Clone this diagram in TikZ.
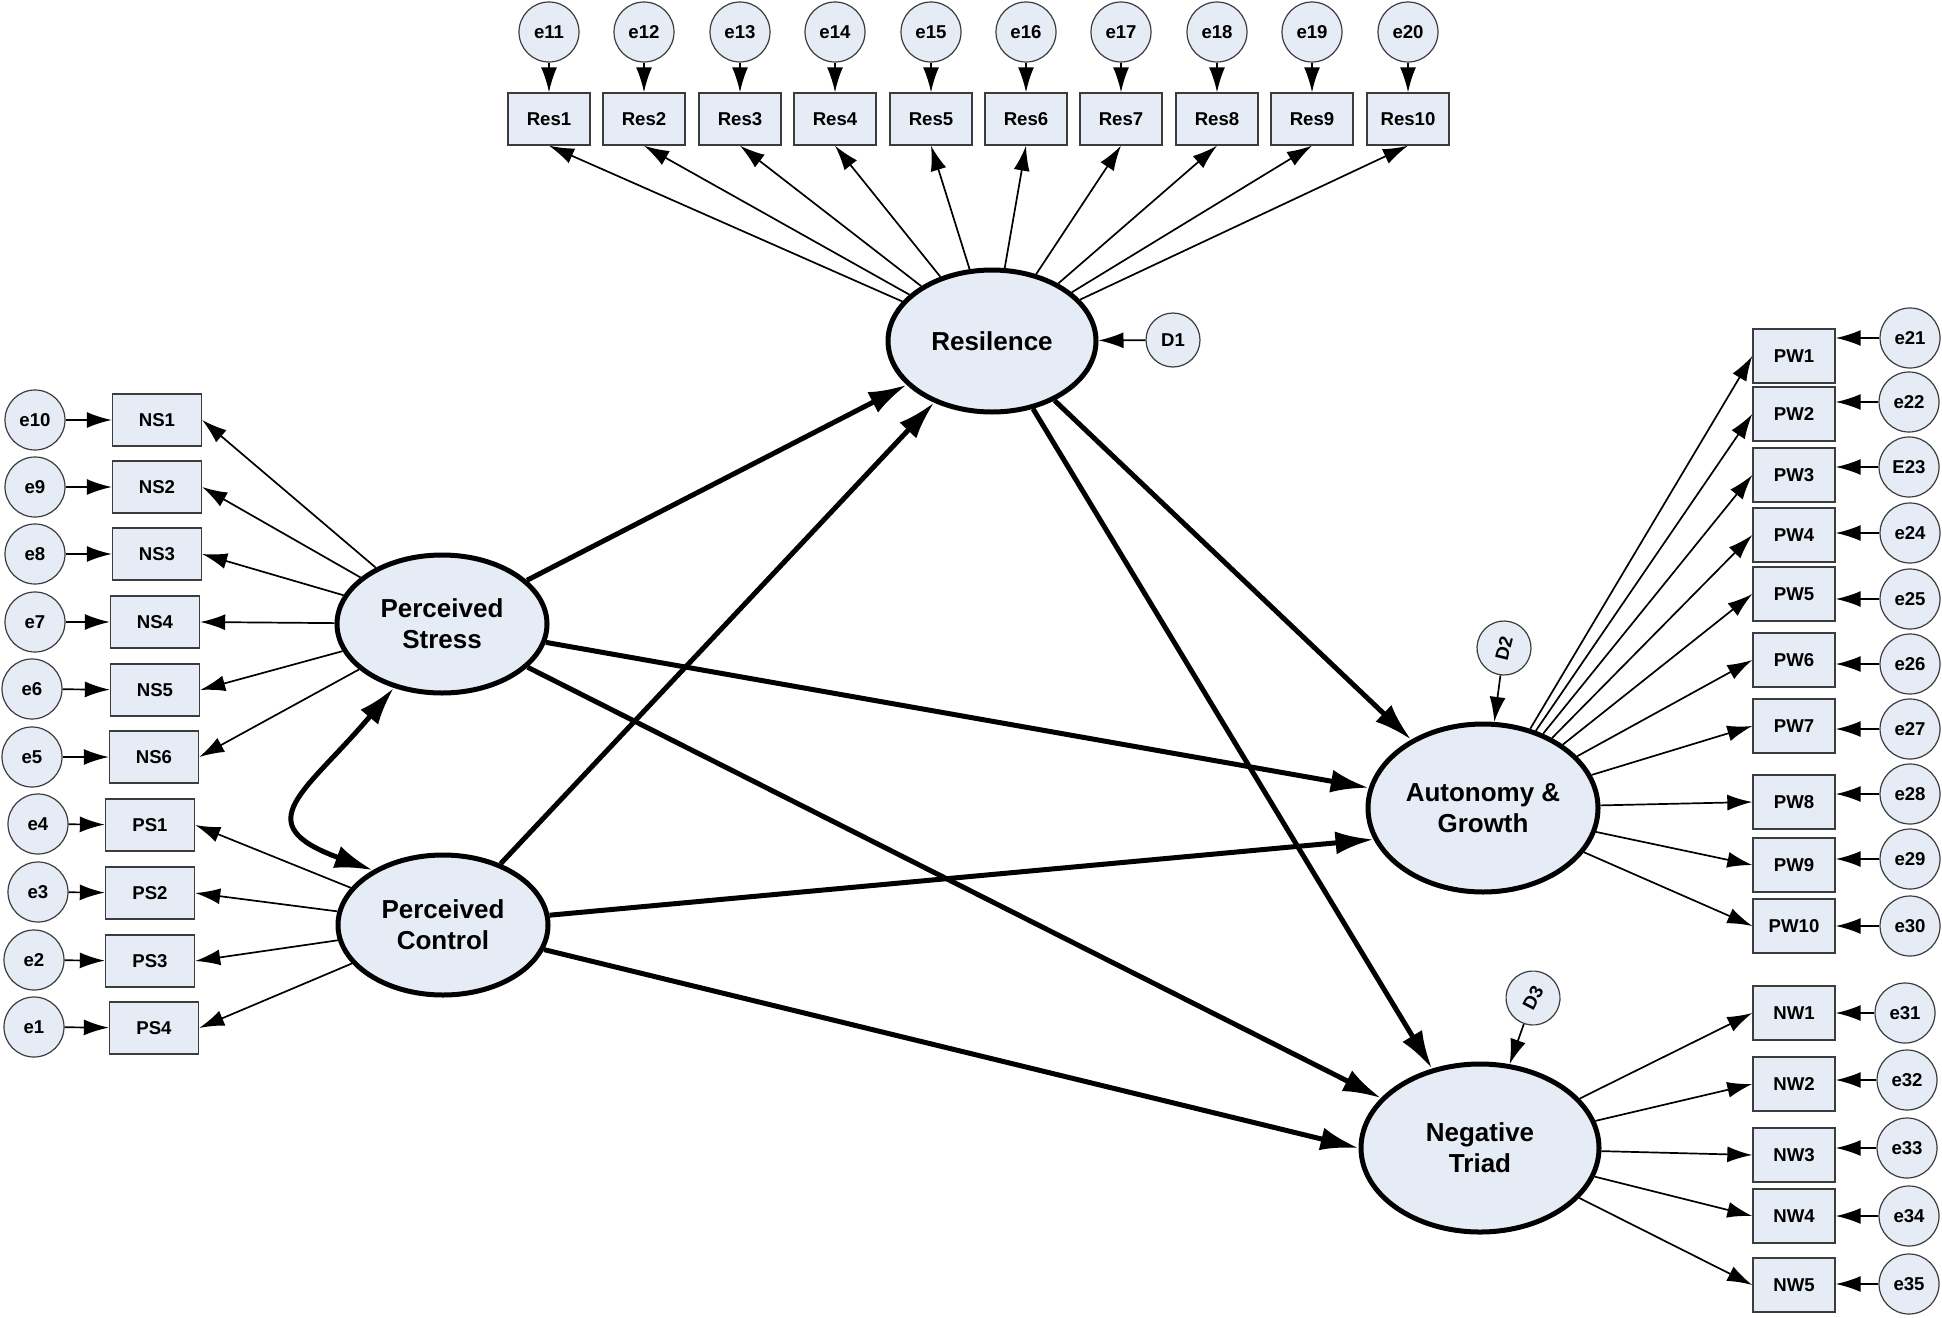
\documentclass[tikz,border=0pt]{standalone}
\usepackage{fontspec}
\setmainfont{Liberation Sans}
\usetikzlibrary{arrows.meta,shapes.geometric,positioning}
\definecolor{semfill}{RGB}{230,236,245}
\definecolor{semline}{RGB}{60,60,60}
\tikzset{
    latent/.style={ellipse,draw,line width=2.5pt,fill=semfill,inner sep=0pt,align=center,font=\fontsize{13}{15.5}\selectfont\bfseries},
    obs/.style={rectangle,draw=semline,line width=0.7pt,fill=semfill,minimum width=41pt,minimum height=26pt,inner sep=0pt,font=\fontsize{9.3}{11}\selectfont\bfseries},
    err/.style={circle,draw=semline,line width=0.6pt,fill=semfill,minimum size=30pt,inner sep=0pt,font=\fontsize{9.3}{11}\selectfont\bfseries},
    dist/.style={err,minimum size=27pt},
    pre/.style={-{Latex[length=12.5pt,width=8pt]},line width=0.85pt},
    causal/.style={-{Latex[length=19pt,width=11.5pt]},line width=2.5pt},
    cov/.style={{Latex[length=19pt,width=11.5pt]}-{Latex[length=19pt,width=11.5pt]},line width=2.5pt}
}

\begin{document}
\begin{tikzpicture}[x=0.5pt,y=0.5pt]
    \useasboundingbox (0,0) rectangle (1942,-1317);

    % resilience items
    \node[obs] (res 1)  at (549,-119)  {Res1};
    \node[obs] (res 2)  at (644,-119)  {Res2};
    \node[obs] (res 3)  at (740,-119)  {Res3};
    \node[obs] (res 4)  at (835,-119)  {Res4};
    \node[obs] (res 5)  at (931,-119)  {Res5};
    \node[obs] (res 6)  at (1026,-119) {Res6};
    \node[obs] (res 7)  at (1121,-119) {Res7};
    \node[obs] (res 8)  at (1217,-119) {Res8};
    \node[obs] (res 9)  at (1312,-119) {Res9};
    \node[obs] (res 10) at (1408,-119) {Res10};

    \node[err] (e 11) at (549,-32)  {e11} edge[pre] (res 1);
    \node[err] (e 12) at (644,-32)  {e12} edge[pre] (res 2);
    \node[err] (e 13) at (740,-32)  {e13} edge[pre] (res 3);
    \node[err] (e 14) at (835,-32)  {e14} edge[pre] (res 4);
    \node[err] (e 15) at (931,-32)  {e15} edge[pre] (res 5);
    \node[err] (e 16) at (1026,-32) {e16} edge[pre] (res 6);
    \node[err] (e 17) at (1121,-32) {e17} edge[pre] (res 7);
    \node[err] (e 18) at (1217,-32) {e18} edge[pre] (res 8);
    \node[err] (e 19) at (1312,-32) {e19} edge[pre] (res 9);
    \node[err] (e 20) at (1408,-32) {e20} edge[pre] (res 10);

    % stress and control items
    \node[obs,minimum width=44.5pt] (ns 1) at (157,-420)  {NS1};
    \node[obs,minimum width=44.5pt] (ns 2) at (157,-487)  {NS2};
    \node[obs,minimum width=44.5pt] (ns 3) at (157,-554)  {NS3};
    \node[obs,minimum width=44.5pt] (ns 4) at (155,-622)  {NS4};
    \node[obs,minimum width=44.5pt] (ns 5) at (155,-690)  {NS5};
    \node[obs,minimum width=44.5pt] (ns 6) at (154,-757)  {NS6};
    \node[obs,minimum width=44.5pt] (ps 1) at (150,-825)  {PS1};
    \node[obs,minimum width=44.5pt] (ps 2) at (150,-893)  {PS2};
    \node[obs,minimum width=44.5pt] (ps 3) at (150,-961)  {PS3};
    \node[obs,minimum width=44.5pt] (ps 4) at (154,-1028) {PS4};

    \node[err] (e 10) at (35,-420)  {e10} edge[pre] (ns 1);
    \node[err] (e 9)  at (35,-487)  {e9}  edge[pre] (ns 2);
    \node[err] (e 8)  at (35,-554)  {e8}  edge[pre] (ns 3);
    \node[err] (e 7)  at (35,-622)  {e7}  edge[pre] (ns 4);
    \node[err] (e 6)  at (32,-689)  {e6}  edge[pre] (ns 5);
    \node[err] (e 5)  at (32,-757)  {e5}  edge[pre] (ns 6);
    \node[err] (e 4)  at (38,-824)  {e4}  edge[pre] (ps 1);
    \node[err] (e 3)  at (38,-892)  {e3}  edge[pre] (ps 2);
    \node[err] (e 2)  at (34,-960)  {e2}  edge[pre] (ps 3);
    \node[err] (e 1)  at (34,-1027) {e1}  edge[pre] (ps 4);

    % wellbeing items
    \node[obs,minimum height=27pt] (pw 1)  at (1794,-356)  {PW1};
    \node[obs,minimum height=27pt] (pw 2)  at (1794,-414)  {PW2};
    \node[obs,minimum height=27pt] (pw 3)  at (1794,-475)  {PW3};
    \node[obs,minimum height=27pt] (pw 4)  at (1794,-535)  {PW4};
    \node[obs,minimum height=27pt] (pw 5)  at (1794,-594)  {PW5};
    \node[obs,minimum height=27pt] (pw 6)  at (1794,-660)  {PW6};
    \node[obs,minimum height=27pt] (pw 7)  at (1794,-726)  {PW7};
    \node[obs,minimum height=27pt] (pw 8)  at (1794,-802)  {PW8};
    \node[obs,minimum height=27pt] (pw 9)  at (1794,-865)  {PW9};
    \node[obs,minimum height=27pt] (pw 10) at (1794,-926)  {PW10};
    \node[obs,minimum height=27pt] (nw 1)  at (1794,-1013) {NW1};
    \node[obs,minimum height=27pt] (nw 2)  at (1794,-1084) {NW2};
    \node[obs,minimum height=27pt] (nw 3)  at (1794,-1155) {NW3};
    \node[obs,minimum height=27pt] (nw 4)  at (1794,-1216) {NW4};
    \node[obs,minimum height=27pt] (nw 5)  at (1794,-1285) {NW5};

    \node[err] (e 21) at (1910,-338)  {e21} edge[pre] (pw 1.east |- e 21);
    \node[err] (e 22) at (1909,-402)  {e22} edge[pre] (pw 2.east |- e 22);
    \node[err] (e 23) at (1909,-467)  {E23} edge[pre] (pw 3.east |- e 23);
    \node[err] (e 24) at (1910,-533)  {e24} edge[pre] (pw 4.east |- e 24);
    \node[err] (e 25) at (1910,-599)  {e25} edge[pre] (pw 5.east |- e 25);
    \node[err] (e 26) at (1910,-664)  {e26} edge[pre] (pw 6.east |- e 26);
    \node[err] (e 27) at (1910,-729)  {e27} edge[pre] (pw 7.east |- e 27);
    \node[err] (e 28) at (1910,-794)  {e28} edge[pre] (pw 8.east |- e 28);
    \node[err] (e 29) at (1910,-859)  {e29} edge[pre] (pw 9.east |- e 29);
    \node[err] (e 30) at (1910,-926)  {e30} edge[pre] (pw 10.east |- e 30);
    \node[err] (e 31) at (1905,-1013) {e31} edge[pre] (nw 1.east |- e 31);
    \node[err] (e 32) at (1907,-1080) {e32} edge[pre] (nw 2.east |- e 32);
    \node[err] (e 33) at (1907,-1148) {e33} edge[pre] (nw 3.east |- e 33);
    \node[err] (e 34) at (1909,-1216) {e34} edge[pre] (nw 4.east |- e 34);
    \node[err] (e 35) at (1909,-1284) {e35} edge[pre] (nw 5.east |- e 35);

    % latent variables with their loadings
    \node[latent,minimum width=104pt,minimum height=71pt] (resil) at (992,-341) {Resilence}
        edge[pre] (res 1.south) edge[pre] (res 2.south) edge[pre] (res 3.south)
        edge[pre] (res 4.south) edge[pre] (res 5.south) edge[pre] (res 6.south)
        edge[pre] (res 7.south) edge[pre] (res 8.south) edge[pre] (res 9.south)
        edge[pre] (res 10.south);
    \node[latent,minimum width=105pt,minimum height=69pt] (stress) at (442,-624) {Perceived\\Stress}
        edge[pre] (ns 1.east) edge[pre] (ns 2.east) edge[pre] (ns 3.east)
        edge[pre] (ns 4.east) edge[pre] (ns 5.east) edge[pre] (ns 6.east);
    \node[latent,minimum width=105pt,minimum height=70pt] (control) at (443,-925) {Perceived\\Control}
        edge[pre] (ps 1.east) edge[pre] (ps 2.east) edge[pre] (ps 3.east)
        edge[pre] (ps 4.east);
    \node[latent,minimum width=115pt,minimum height=84pt] (autonomy) at (1483,-808) {Autonomy \&\\Growth}
        edge[pre] (pw 1.west) edge[pre] (pw 2.west) edge[pre] (pw 3.west)
        edge[pre] (pw 4.west) edge[pre] (pw 5.west) edge[pre] (pw 6.west)
        edge[pre] (pw 7.west) edge[pre] (pw 8.west) edge[pre] (pw 9.west)
        edge[pre] (pw 10.west);
    \node[latent,minimum width=119pt,minimum height=84pt] (triad) at (1480,-1148) {Negative\\Triad}
        edge[pre] (nw 1.west) edge[pre] (nw 2.west) edge[pre] (nw 3.west)
        edge[pre] (nw 4.west) edge[pre] (nw 5.west);

    % disturbances
    \node[dist]           (d 1) at (1173,-340) {D1} edge[pre] (resil);
    \node[dist,rotate=76] (d 2) at (1504,-648) {D2} edge[pre] (autonomy);
    \node[dist,rotate=62] (d 3) at (1533,-998) {D3} edge[pre] (triad);

    % structural paths
    \draw[causal] (stress) -- (resil);
    \draw[causal] (control) -- (resil);
    \draw[causal] (stress) -- (autonomy);
    \draw[causal] (stress) -- (triad);
    \draw[causal] (control) -- (autonomy.196);
    \draw[causal] (control) -- (triad.west);
    \draw[causal] (resil) -- (autonomy);
    \draw[causal] (resil) -- (triad);
    \draw[cov] (stress.233) to[out=230,in=160,looseness=1.9] (control.142);
\end{tikzpicture}
\end{document}
